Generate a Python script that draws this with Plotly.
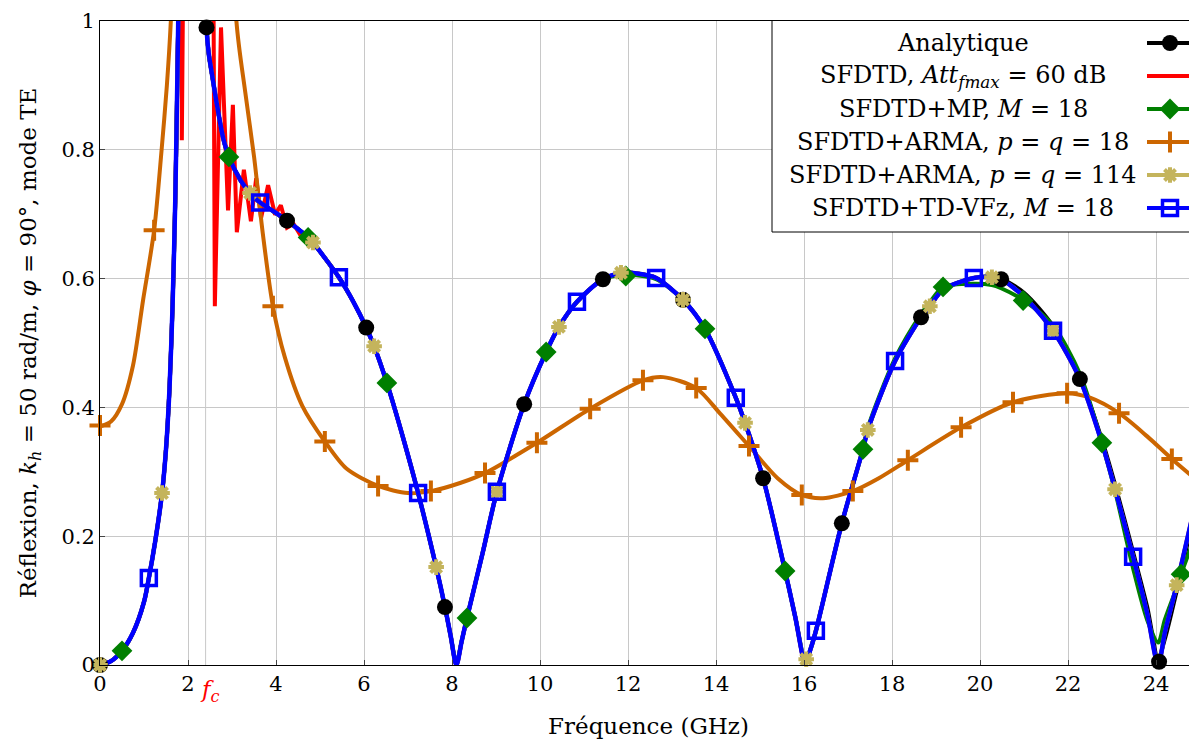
import plotly.graph_objects as go

# --- data (frequency in GHz, reflection magnitude) ---
f_main = [0, 0.25, 0.5, 0.75, 1.0, 1.11, 1.25, 1.41, 1.5, 1.58, 1.65, 1.71, 1.76, 1.79, 1.83, 2.0, 2.2,
          2.38, 2.42, 2.47, 2.55, 2.65, 2.8, 2.93, 3.2, 3.41, 3.64, 3.93, 4.25, 4.5, 4.73, 4.84, 5.1, 5.43,
          5.75, 6.05, 6.23, 6.52, 6.9, 7.23, 7.64, 7.84, 7.97, 8.1, 8.22, 8.34, 8.7, 9.02, 9.64, 10.14,
          10.43, 10.84, 11.43, 11.9, 12.2, 12.64, 13.25, 13.75, 14.45, 14.66, 15.07, 15.57, 15.8,
          16.03, 16.15, 16.27, 16.86, 17.34, 17.45, 18.07, 18.66, 18.86, 19.16, 19.86, 20.27, 20.48,
          21.0, 21.66, 22.27, 22.77, 23.07, 23.48, 23.8, 24.05, 24.2, 24.47, 24.57, 25.0]

analytic_r = [0, 0.006, 0.022, 0.05, 0.098, 0.135, 0.19, 0.267, 0.335, 0.43, 0.56, 0.72, 0.92, 1.06, 1.3, 2.5, 1.8,
              1.1, 0.99, 0.95, 0.915, 0.873, 0.818, 0.789, 0.752, 0.733, 0.718, 0.705, 0.690, 0.677, 0.664, 0.656, 0.633, 0.602,
              0.565, 0.524, 0.495, 0.438, 0.35, 0.267, 0.152, 0.090, 0.045, 0.0, 0.037, 0.073, 0.175, 0.269, 0.405, 0.486,
              0.525, 0.564, 0.599, 0.609, 0.608, 0.601, 0.567, 0.522, 0.415, 0.376, 0.290, 0.146, 0.075,
              0.003, 0.025, 0.053, 0.220, 0.335, 0.365, 0.472, 0.540, 0.557, 0.583, 0.601, 0.603, 0.600,
              0.578, 0.526, 0.446, 0.350, 0.280, 0.175, 0.09, 0.01, 0.04, 0.115, 0.145, 0.275]

mp_r = [0, 0.006, 0.022, 0.05, 0.098, 0.135, 0.19, 0.267, 0.335, 0.43, 0.56, 0.72, 0.92, 1.06, 1.3, 2.5, 1.8,
        1.1, 0.99, 0.95, 0.915, 0.873, 0.818, 0.789, 0.752, 0.733, 0.718, 0.705, 0.690, 0.677, 0.664, 0.656, 0.633, 0.602,
        0.565, 0.524, 0.495, 0.438, 0.35, 0.267, 0.152, 0.090, 0.045, 0.003, 0.037, 0.073, 0.175, 0.269, 0.405, 0.486,
        0.525, 0.564, 0.599, 0.606, 0.605, 0.599, 0.567, 0.522, 0.415, 0.376, 0.290, 0.146, 0.075,
        0.008, 0.025, 0.053, 0.220, 0.335, 0.368, 0.476, 0.545, 0.563, 0.587, 0.592, 0.590, 0.585,
        0.566, 0.527, 0.452, 0.345, 0.270, 0.150, 0.07, 0.035, 0.07, 0.12, 0.141, 0.22]

arma114_r = [0, 0.006, 0.022, 0.05, 0.098, 0.135, 0.19, 0.267, 0.335, 0.43, 0.56, 0.72, 0.92, 1.06, 1.3, 2.5, 1.8,
             1.1, 0.99, 0.95, 0.915, 0.873, 0.818, 0.789, 0.752, 0.733, 0.718, 0.705, 0.690, 0.677, 0.664, 0.656, 0.633, 0.602,
             0.565, 0.524, 0.495, 0.438, 0.35, 0.267, 0.152, 0.090, 0.045, 0.0, 0.037, 0.073, 0.175, 0.269, 0.405, 0.486,
             0.525, 0.564, 0.599, 0.609, 0.608, 0.601, 0.567, 0.522, 0.415, 0.376, 0.290, 0.146, 0.075,
             0.005, 0.025, 0.053, 0.220, 0.335, 0.365, 0.472, 0.540, 0.557, 0.583, 0.601, 0.602, 0.599,
             0.572, 0.519, 0.444, 0.345, 0.273, 0.168, 0.08, 0.0, 0.05, 0.124, 0.154, 0.282]

vfz_r = [0, 0.006, 0.022, 0.05, 0.098, 0.135, 0.19, 0.267, 0.335, 0.43, 0.56, 0.72, 0.92, 1.06, 1.3, 2.5, 1.8,
         1.1, 0.99, 0.95, 0.915, 0.873, 0.818, 0.789, 0.752, 0.733, 0.718, 0.705, 0.690, 0.677, 0.664, 0.656, 0.633, 0.602,
         0.565, 0.524, 0.495, 0.438, 0.35, 0.267, 0.152, 0.090, 0.045, 0.0, 0.037, 0.073, 0.175, 0.269, 0.405, 0.486,
         0.525, 0.564, 0.599, 0.609, 0.608, 0.601, 0.567, 0.522, 0.415, 0.376, 0.290, 0.146, 0.075,
         0.003, 0.025, 0.053, 0.220, 0.335, 0.365, 0.472, 0.540, 0.557, 0.583, 0.601, 0.602, 0.599,
         0.572, 0.519, 0.444, 0.345, 0.273, 0.168, 0.08, 0.0, 0.05, 0.124, 0.154, 0.282]

# SFDTD without correction: jagged part around the cutoff (straight segments);
# elsewhere it sits on the corrected curves (drawn with the f_main points)
sfdtd_jag_f = [1.76, 1.80, 1.85, 1.86, 1.87, 2.0, 2.5, 2.57, 2.61, 2.75, 2.91, 3.02, 3.11, 3.27, 3.43,
               3.55, 3.66, 3.82, 3.98, 4.11, 4.25, 4.4, 4.55, 4.73]
sfdtd_jag_r = [0.92, 1.3, 1.3, 0.815, 1.3, 2.0, 1.5, 1.2, 0.557, 0.99, 0.706, 0.87, 0.672, 0.769, 0.689,
               0.756, 0.694, 0.745, 0.699, 0.714, 0.679, 0.685, 0.668, 0.664]

arma18_f = [0, 0.25, 0.5, 0.75, 0.98, 1.23, 1.40, 1.52, 1.61, 1.75, 2.0, 2.4, 2.8, 3.1, 3.3, 3.5, 3.7, 3.93,
            4.2, 4.6, 5.11, 5.6, 6.32, 7.0, 7.52, 8.2, 8.75, 9.93, 11.14, 12.34, 12.8, 13.55, 14.1,
            14.75, 15.4, 15.95, 16.43, 17.11, 17.7, 18.36, 19.57, 20.75, 21.98, 22.5, 23.16, 23.8, 24.36, 25.0]
arma18_r = [0.370, 0.378, 0.405, 0.465, 0.567, 0.675, 0.80, 0.90, 1.0, 1.25, 1.8, 2.2, 1.6, 1.0, 0.89, 0.79, 0.67, 0.557,
            0.478, 0.402, 0.347, 0.305, 0.278, 0.267, 0.270, 0.283, 0.298, 0.345, 0.398, 0.442, 0.447, 0.430, 0.39,
            0.340, 0.29, 0.264, 0.259, 0.270, 0.29, 0.318, 0.369, 0.408, 0.422, 0.415, 0.391, 0.355, 0.320, 0.283]

# marker positions
dots_f = [0, 2.42, 4.25, 6.05, 7.84, 9.64, 11.43, 13.25, 15.07, 16.86, 18.66, 20.48, 22.27, 24.07]
dots_r = [0, 0.99, 0.690, 0.524, 0.090, 0.405, 0.599, 0.567, 0.290, 0.220, 0.540, 0.599, 0.444, 0.005]
diam_f = [0.5, 2.93, 4.73, 6.52, 8.34, 10.14, 11.95, 13.75, 15.57, 17.34, 19.16, 20.98, 22.77, 24.57]
diam_r = [0.022, 0.789, 0.664, 0.438, 0.073, 0.486, 0.604, 0.522, 0.146, 0.335, 0.587, 0.566, 0.345, 0.141]
plus_f = [0, 1.23, 3.93, 5.11, 6.32, 7.52, 8.75, 9.93, 11.14, 12.34, 13.55, 14.75, 15.95, 17.11,
          18.36, 19.57, 20.75, 21.98, 23.16, 24.36]
plus_r = [0.372, 0.675, 0.557, 0.347, 0.278, 0.270, 0.298, 0.345, 0.398, 0.442, 0.430, 0.340, 0.264, 0.270,
          0.318, 0.369, 0.408, 0.422, 0.391, 0.320]
star_f = [0, 1.41, 3.41, 4.84, 6.23, 7.64, 9.02, 10.43, 11.84, 13.25, 14.66, 16.05, 17.45, 18.86,
          20.27, 21.66, 23.07, 24.47]
star_r = [0, 0.267, 0.733, 0.656, 0.495, 0.152, 0.269, 0.525, 0.609, 0.567, 0.376, 0.009, 0.365, 0.557,
          0.602, 0.519, 0.273, 0.124]
sq_f = [1.11, 3.64, 5.43, 7.23, 9.02, 10.84, 12.64, 14.45, 16.27, 18.07, 19.86, 21.66, 23.48]
sq_r = [0.135, 0.718, 0.602, 0.267, 0.269, 0.564, 0.601, 0.415, 0.053, 0.472, 0.601, 0.519, 0.168]

x_ticks = [0, 2, 4, 6, 8, 10, 12, 14, 16, 18, 20, 22, 24]
y_ticks = [0, 0.2, 0.4, 0.6, 0.8, 1]
y_ticktext = ["0", "0.2", "0.4", "0.6", "0.8", "1"]
fc = 2.4

legend_labels = [
    "Analytique",
    "SFDTD, <i>Att</i><sub><i>fmax</i></sub> = 60 dB",
    "SFDTD+MP, <i>M</i> = 18",
    "SFDTD+ARMA, <i>p</i> = <i>q</i> = 18",
    "SFDTD+ARMA, <i>p</i> = <i>q</i> = 114",
    "SFDTD+TD-VFz, <i>M</i> = 18",
]

BLACK, RED, GREEN, ORANGE, KHAKI, BLUE = "#000000", "#FF0000", "#007F00", "#CC6600", "#C4B45C", "#0000FF"
FONT = "DejaVu Serif"
FS_TICK = 21
FS_TITLE = 23
FS_LEG = 24

# styles: (color, symbol, size, line width of marker)
styles = [
    (BLACK, "circle", 16, 0),
    (RED, None, 0, 0),
    (GREEN, "diamond", 16, 0),
    (ORANGE, "cross-thin", 15, 4),
    (KHAKI, "asterisk", 13, 4),
    (BLUE, "square-open", 15, 3.5),
]

fig = go.Figure()

# lines first
line_series = [
    (f_main, analytic_r, BLACK, "spline"),
    (f_main, vfz_r, RED, "spline"),
    (sfdtd_jag_f, sfdtd_jag_r, RED, "linear"),
    (f_main, mp_r, GREEN, "spline"),
    (arma18_f, arma18_r, ORANGE, "spline"),
    (f_main, arma114_r, KHAKI, "spline"),
    (f_main, vfz_r, BLUE, "spline"),
]
for fx, ry, col, shape in line_series:
    fig.add_trace(go.Scatter(x=fx, y=ry, mode="lines", showlegend=False, hoverinfo="skip",
                             line=dict(color=col, width=4.5 if col == BLUE else 4, shape=shape, smoothing=0.8)))

# then markers
marker_series = [
    (dots_f, dots_r, styles[0]),
    (diam_f, diam_r, styles[2]),
    (plus_f, plus_r, styles[3]),
    (star_f, star_r, styles[4]),
    (sq_f, sq_r, styles[5]),
]
for fx, ry, (col, sym, size, lw) in marker_series:
    fig.add_trace(go.Scatter(x=fx, y=ry, mode="markers", showlegend=False, cliponaxis=False,
                             marker=dict(color=col, symbol=sym, size=size,
                                         line=dict(color=col, width=lw))))


# manual legend (text left, sample on the right, like pgfplots); px are page pixels
def gx(px):
    return (px - 100) / 44.0


def gy(py):
    return (665 - py) / 644.0


rows = [43, 76, 109, 142, 175, 208]
fig.add_shape(type="rect", x0=gx(772), x1=gx(1199), y0=gy(232), y1=gy(20),
              line=dict(color="black", width=1), fillcolor="white", layer="between")
for i, (lab, (col, sym, size, lw)) in enumerate(zip(legend_labels, styles)):
    yy = gy(rows[i])
    fig.add_trace(go.Scatter(x=[gx(1147), gx(1193)], y=[yy, yy], mode="lines", showlegend=False,
                             hoverinfo="skip", line=dict(color=col, width=4)))
    if sym:
        fig.add_trace(go.Scatter(x=[gx(1170)], y=[yy], mode="markers", showlegend=False, cliponaxis=False,
                                 marker=dict(color=col, symbol=sym, size=size,
                                             line=dict(color=col, width=lw))))
    fig.add_annotation(x=gx(963), y=yy, text=lab, showarrow=False, xanchor="center", yanchor="middle",
                       font=dict(family=FONT, size=FS_LEG, color="black"))

# cutoff frequency gridline and label
fig.add_shape(type="line", x0=fc, x1=fc, y0=0, y1=1, line=dict(color="#c8c8c8", width=1), layer="between")
fig.add_annotation(x=fc + 0.1, y=0, yshift=-9, text="<i>f<sub>c</sub></i>", showarrow=False,
                   xanchor="center", yanchor="top", font=dict(family=FONT, size=FS_TITLE, color=RED))

# the page body has an 8 px margin, so the figure is shifted by (8, 8)
fig.update_layout(
    width=1189, height=735,
    margin=dict(l=92, r=0, t=13, b=78, autoexpand=False),
    paper_bgcolor="white", plot_bgcolor="white",
    font=dict(family=FONT, size=FS_TICK, color="black"),
    showlegend=False,
)
fig.update_xaxes(range=[0, 1097 / 44.0], tickvals=x_ticks, ticks="inside", ticklen=5, tickcolor="#444",
                 showgrid=True, gridcolor="#c8c8c8", gridwidth=1, zeroline=False, automargin=False,
                 showline=True, linecolor="black", linewidth=1, mirror=True,
                 tickfont=dict(family=FONT, size=FS_TICK),
                 title=dict(text="Fréquence (GHz)", standoff=22, font=dict(family=FONT, size=FS_TITLE)))
fig.update_yaxes(range=[0, 1], tickvals=y_ticks, ticktext=y_ticktext, ticks="inside", ticklen=5, tickcolor="#444",
                 showgrid=True, gridcolor="#c8c8c8", gridwidth=1, zeroline=False, automargin=False,
                 showline=True, linecolor="black", linewidth=1,
                 tickfont=dict(family=FONT, size=FS_TICK),
                 title=dict(text="Réflexion, <i>k<sub>h</sub></i> = 50 rad/m, <i>φ</i> = 90°, mode TE",
                            standoff=18, font=dict(family=FONT, size=FS_TITLE)))

fig.write_html("out.html")
